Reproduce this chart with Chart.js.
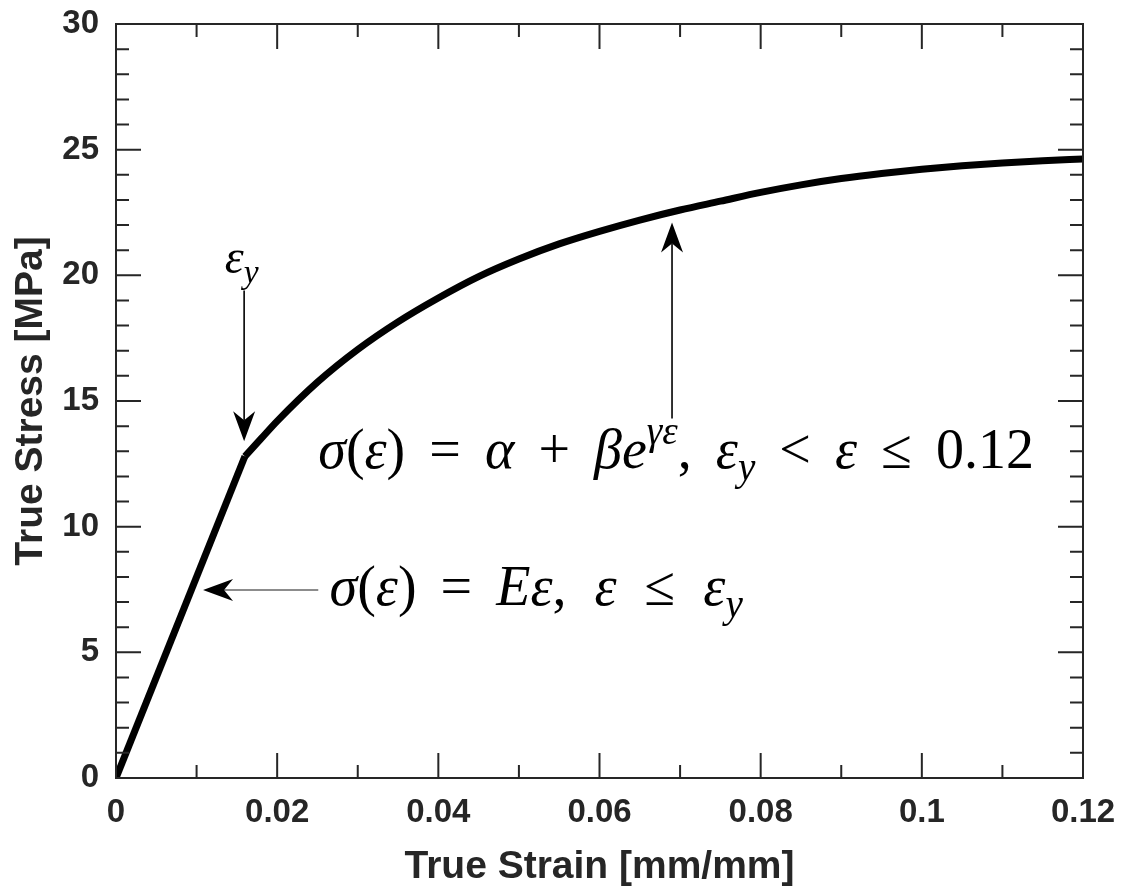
<!DOCTYPE html>
<html>
<head>
<title>True stress vs true strain</title>
<style>
  html, body { margin: 0; padding: 0; background: #fff; }
  #chartId { display: block; }
</style>
</head>
<body>
<canvas id="chartId" width="1124" height="894"></canvas>

<script src="https://cdn.jsdelivr.net/npm/chart.js@4/dist/chart.umd.min.js"></script>
<script>
// values: strain [mm/mm], stress [MPa]
var elasticStrain = [0, 0.016];
var elasticStress = [0, 12.8];

var plasticStrain = [0.016, 0.018, 0.02, 0.025, 0.03, 0.035, 0.04, 0.045, 0.05, 0.055, 0.06, 0.065,
                     0.07, 0.075, 0.08, 0.085, 0.09, 0.095, 0.1, 0.105, 0.11, 0.115, 0.12];
var plasticStress = [12.8, 13.5, 14.2, 15.75, 17.05, 18.15, 19.1, 19.95, 20.65, 21.25, 21.75, 22.2,
                     22.6, 22.95, 23.3, 23.6, 23.85, 24.05, 24.22, 24.36, 24.47, 24.56, 24.63];

var xTicks = [0, 0.02, 0.04, 0.06, 0.08, 0.1, 0.12];
var xTickLabels = ['0', '0.02', '0.04', '0.06', '0.08', '0.1', '0.12'];
var xMinorTicks = [0.01, 0.03, 0.05, 0.07, 0.09, 0.11];

var yTicks = [0, 5, 10, 15, 20, 25, 30];
var yTickLabels = ['0', '5', '10', '15', '20', '25', '30'];
var yMinorTicks = [1, 2, 3, 4, 6, 7, 8, 9, 11, 12, 13, 14, 16, 17, 18, 19, 21, 22, 23, 24, 26, 27, 28, 29];

var axisColor = '#262626';
var mathFont = '"Liberation Serif", "DejaVu Serif", serif';
var sansFont = '"Liberation Sans", Arial, sans-serif';

function toPoints(xs, ys) {
    return xs.map(function (x, i) { return { x: x, y: ys[i] }; });
}

// fixed axis sizes, no label overhang, so the plot box lands where the original has it
function fixBox(size) {
    return function (s) {
        if (s.isHorizontal()) s.height = size; else s.width = size;
        s.paddingTop = s.paddingBottom = s.paddingLeft = s.paddingRight = 0;
    };
}

// box round the plot with inward ticks on all four sides
var boxPlugin = {
    id: 'box',
    afterDatasetsDraw: function (chart) {
        var ctx = chart.ctx, a = chart.chartArea;
        var xs = chart.scales.x, ys = chart.scales.y;
        ctx.save();
        ctx.strokeStyle = axisColor;
        ctx.lineWidth = 2;
        ctx.beginPath();
        function xt(v, len) {
            var p = xs.getPixelForValue(v);
            ctx.moveTo(p, a.bottom); ctx.lineTo(p, a.bottom - len);
            ctx.moveTo(p, a.top); ctx.lineTo(p, a.top + len);
        }
        function yt(v, len) {
            var p = ys.getPixelForValue(v);
            ctx.moveTo(a.left, p); ctx.lineTo(a.left + len, p);
            ctx.moveTo(a.right, p); ctx.lineTo(a.right - len, p);
        }
        xTicks.forEach(function (v) { xt(v, 25); });
        xMinorTicks.forEach(function (v) { xt(v, 13); });
        yTicks.forEach(function (v) { yt(v, 25); });
        yMinorTicks.forEach(function (v) { yt(v, 13); });
        ctx.stroke();
        ctx.strokeRect(a.left, a.top, a.right - a.left, a.bottom - a.top);
        ctx.restore();
    }
};

function arrow(ctx, x1, y1, x2, y2, color) {
    var ang = Math.atan2(y2 - y1, x2 - x1);
    var L = 30, W = 11, N = 9;
    ctx.save();
    ctx.strokeStyle = color;
    ctx.lineWidth = 1.6;
    ctx.beginPath();
    ctx.moveTo(x1, y1);
    ctx.lineTo(x2 - Math.cos(ang) * (L - N), y2 - Math.sin(ang) * (L - N));
    ctx.stroke();
    ctx.translate(x2, y2);
    ctx.rotate(ang);
    ctx.fillStyle = '#000';
    ctx.beginPath();
    ctx.moveTo(0, 0);
    ctx.lineTo(-L, -W);
    ctx.lineTo(-L + N, 0);
    ctx.lineTo(-L, W);
    ctx.closePath();
    ctx.fill();
    ctx.restore();
}

// runs of math text: it = italic, sub / sup = script, g = gap in em
function drawMath(ctx, x, y, size, runs) {
    ctx.save();
    ctx.textBaseline = 'alphabetic';
    ctx.textAlign = 'left';
    ctx.fillStyle = '#000';
    runs.forEach(function (r) {
        if (r.g) { x += r.g * size; return; }
        var s = (r.sub || r.sup) ? size * 0.7 : size;
        ctx.font = (r.it ? 'italic ' : '') + s + 'px ' + mathFont;
        var dy = r.sub ? size * 0.22 : (r.sup ? -size * 0.42 : 0);
        ctx.fillText(r.t, x, y + dy);
        x += ctx.measureText(r.t).width;
    });
    ctx.restore();
    return x;
}

var G = 0.43;
var formulaPlastic = [
    { t: 'σ', it: true }, { t: '(' }, { t: 'ε', it: true }, { t: ')' }, { g: G }, { t: '=' }, { g: G },
    { t: 'α', it: true }, { g: G }, { t: '+' }, { g: G }, { t: 'βe', it: true }, { t: 'γε', it: true, sup: true },
    { t: ',' }, { g: G }, { t: 'ε', it: true }, { t: 'y', it: true, sub: true }, { g: G }, { t: '<' }, { g: G },
    { t: 'ε', it: true }, { g: G }, { t: '≤' }, { g: G }, { t: '0.12' }
];
var formulaElastic = [
    { t: 'σ', it: true }, { t: '(' }, { t: 'ε', it: true }, { t: ')' }, { g: G }, { t: '=' }, { g: G },
    { t: 'Eε', it: true }, { t: ',' }, { g: 0.5 }, { t: 'ε', it: true }, { g: 0.5 }, { t: '≤' }, { g: 0.5 },
    { t: 'ε', it: true }, { t: 'y', it: true, sub: true }
];
var yieldLabel = [{ t: 'ε', it: true }, { t: 'y', it: true, sub: true }];

var notesPlugin = {
    id: 'notes',
    afterDraw: function (chart) {
        var ctx = chart.ctx;
        var xs = chart.scales.x, ys = chart.scales.y;
        function px(v) { return xs.getPixelForValue(v); }
        function py(v) { return ys.getPixelForValue(v); }

        drawMath(ctx, px(0.0135), py(20.1), 48, yieldLabel);
        arrow(ctx, px(0.0159), py(19.4), px(0.0159), py(13.4), '#000');

        arrow(ctx, px(0.069), py(14.3), px(0.069), py(22.1), '#000');
        drawMath(ctx, px(0.0251), py(12.34), 56, formulaPlastic);

        arrow(ctx, px(0.0251), py(7.48), px(0.0108), py(7.48), '#666');
        drawMath(ctx, px(0.0265), py(6.88), 56, formulaElastic);
    }
};

var chrt = document.getElementById('chartId').getContext('2d');
var chartId = new Chart(chrt, {
    type: 'line',
    data: {
        datasets: [{
            data: toPoints(elasticStrain, elasticStress),
            borderColor: '#000',
            borderWidth: 7,
            pointRadius: 0,
            tension: 0,
            fill: false
        }, {
            data: toPoints(plasticStrain, plasticStress),
            borderColor: '#000',
            borderWidth: 7,
            pointRadius: 0,
            cubicInterpolationMode: 'monotone',
            fill: false
        }]
    },
    options: {
        responsive: false,
        animation: false,
        devicePixelRatio: 1,
        layout: { padding: { left: 0, top: 24, right: 41, bottom: 0 } },
        plugins: {
            legend: { display: false },
            tooltip: { enabled: false }
        },
        scales: {
            x: {
                type: 'linear',
                min: 0,
                max: 0.12,
                afterBuildTicks: function (s) { s.ticks = xTicks.map(function (v) { return { value: v }; }); },
                afterFit: fixBox(116),
                grid: { display: false, drawTicks: false },
                border: { display: false },
                ticks: {
                    callback: function (v, i) { return xTickLabels[i]; },
                    autoSkip: false,
                    maxRotation: 0,
                    padding: 15,
                    color: axisColor,
                    font: { family: sansFont, size: 33, weight: 'bold' }
                },
                title: {
                    display: true,
                    text: 'True Strain [mm/mm]',
                    color: axisColor,
                    padding: { top: 0, bottom: 3 },
                    font: { family: sansFont, size: 39, weight: 'bold' }
                }
            },
            y: {
                type: 'linear',
                min: 0,
                max: 30,
                afterBuildTicks: function (s) { s.ticks = yTicks.map(function (v) { return { value: v }; }); },
                afterFit: fixBox(116),
                grid: { display: false, drawTicks: false },
                border: { display: false },
                ticks: {
                    callback: function (v, i) { return yTickLabels[i]; },
                    autoSkip: false,
                    padding: 17,
                    color: axisColor,
                    font: { family: sansFont, size: 33, weight: 'bold' }
                },
                title: {
                    display: true,
                    text: 'True Stress [MPa]',
                    color: axisColor,
                    padding: { top: 8, bottom: 0 },
                    font: { family: sansFont, size: 39, weight: 'bold' }
                }
            }
        }
    },
    plugins: [boxPlugin, notesPlugin]
});
</script>
</body>
</html>
